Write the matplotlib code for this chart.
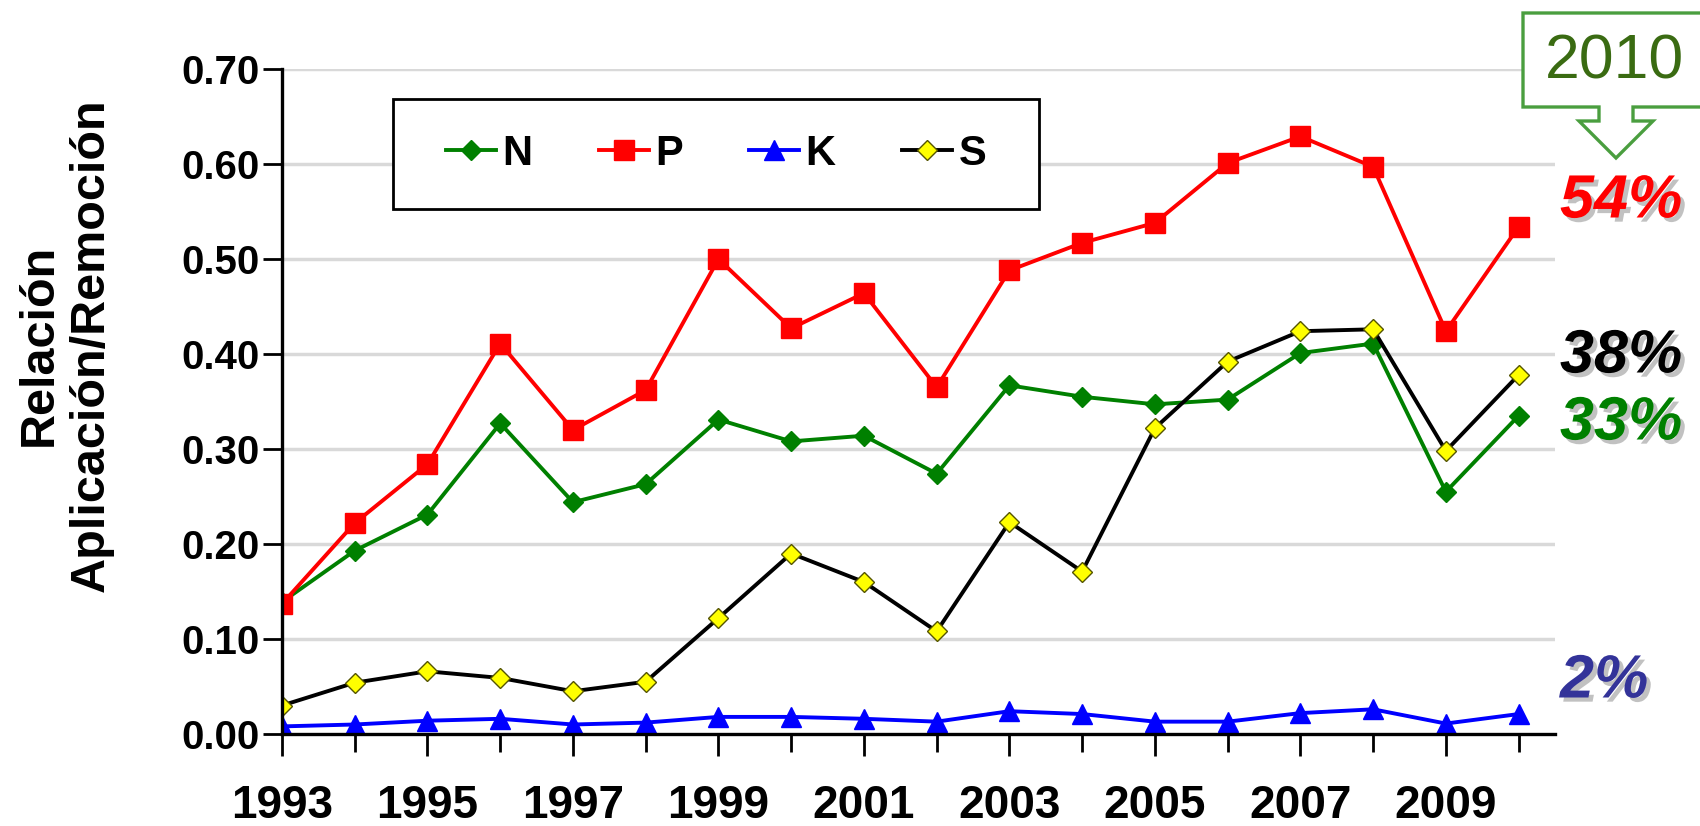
import matplotlib.pyplot as plt
import matplotlib.patheffects as pe
from matplotlib.patches import Polygon, Rectangle
import numpy as np

years = list(range(1993, 2011))

n_vals = [0.139, 0.193, 0.231, 0.327, 0.244, 0.263, 0.331, 0.308, 0.314,
          0.274, 0.367, 0.355, 0.347, 0.352, 0.401, 0.411, 0.255, 0.335]
p_vals = [0.137, 0.222, 0.284, 0.411, 0.320, 0.362, 0.500, 0.427, 0.464,
          0.365, 0.488, 0.517, 0.538, 0.601, 0.629, 0.597, 0.424, 0.534]
k_vals = [0.008, 0.010, 0.014, 0.016, 0.010, 0.012, 0.018, 0.018, 0.016,
          0.013, 0.024, 0.021, 0.013, 0.013, 0.022, 0.026, 0.011, 0.021]
s_vals = [0.030, 0.054, 0.066, 0.059, 0.045, 0.055, 0.122, 0.190, 0.160,
          0.108, 0.223, 0.171, 0.322, 0.392, 0.424, 0.426, 0.298, 0.378]

pct_labels = ["54%", "38%", "33%", "2%"]
pct_colors = ["#ff0000", "#000000", "#008000", "#333399"]
pct_ypix = [202, 357, 424, 682]   # centre rows in figure pixels (from top)

W, H = 1700, 826
narrow = ["Liberation Sans Narrow", "Liberation Sans"]
plt.rcParams["font.family"] = ["Liberation Sans", "DejaVu Sans"]

fig = plt.figure(figsize=(W / 100, H / 100), dpi=100)
ax = fig.add_axes([282 / W, 1 - 734 / H, (1555 - 282) / W, (734 - 69) / H])

def fx(px):
    return px / W

def fy(py):
    return 1 - py / H

ax.plot(years, n_vals, color="#008000", lw=2.8, marker="D", ms=10,
        mfc="#008000", mec="#008000", label="N", zorder=3)
ax.plot(years, p_vals, color="#ff0000", lw=2.8, marker="s", ms=15,
        mfc="#ff0000", mec="#ff0000", label="P", zorder=3)
ax.plot(years, k_vals, color="#0000ff", lw=2.8, marker="^", ms=15,
        mfc="#0000ff", mec="#0000ff", label="K", zorder=3)
ax.plot(years, s_vals, color="#000000", lw=2.8, marker="D", ms=10.5,
        mfc="#ffff00", mec="#555500", mew=1, label="S", zorder=3)

ax.set_xlim(1993, 2010.5)
ax.set_ylim(0, 0.70)
ax.set_yticks(np.arange(0, 0.71, 0.1))
ax.set_yticklabels([f"{v:.2f}" for v in np.arange(0, 0.71, 0.1)],
                   fontsize=29, fontweight="bold")
ax.set_xticks(range(1993, 2010, 2))
ax.set_xticklabels([str(y) for y in range(1993, 2010, 2)],
                   fontsize=33, fontweight="bold", family=narrow)
ax.set_xticks(range(1994, 2011, 2), minor=True)
ax.tick_params(axis="x", which="major", direction="out", length=16, width=2,
               pad=20)
ax.tick_params(axis="x", which="minor", direction="out", length=13, width=2)
ax.tick_params(axis="y", direction="out", length=14, width=2, pad=2)

for y in np.arange(0.1, 0.71, 0.1):
    ax.axhline(y, color="#d9d9d9", lw=2.5, zorder=1)

for side in ["top", "right"]:
    ax.spines[side].set_visible(False)
for side in ["left", "bottom"]:
    ax.spines[side].set_linewidth(2.4)
    ax.spines[side].set_zorder(4)

fig.text(fx(65), fy(345), "Relación\nAplicación/Remoción", rotation=90,
         ha="center", va="center", multialignment="center",
         fontsize=35, fontweight="bold", linespacing=1.2)

# legend box
ax.add_patch(Rectangle((fx(393), fy(209)), fx(1039) - fx(393),
                       fy(99) - fy(209), transform=fig.transFigure,
                       facecolor="white", edgecolor="black", lw=2,
                       zorder=5, clip_on=False))
leg = ax.legend(loc="center", bbox_to_anchor=(fx(716), fy(154)),
                bbox_transform=fig.transFigure, ncol=4, frameon=False,
                handlelength=1.2, handletextpad=0.15, columnspacing=1.6,
                prop=dict(family=narrow, weight="bold", size=30))
leg.set_zorder(6)

# 2010 callout
pts = [(1523, 13), (1710, 13), (1710, 107), (1633, 107), (1633, 121),
       (1653, 121), (1616, 158), (1579, 121), (1599, 121), (1599, 107),
       (1523, 107)]
fig.add_artist(Polygon([(fx(x), fy(y)) for x, y in pts], closed=True,
                       transform=fig.transFigure, facecolor="white",
                       edgecolor="#4a9e3f", lw=2.4))
fig.text(fx(1615), fy(62), "2010", ha="center", va="center", fontsize=45,
         color="#3a6b12")

shadow = [pe.SimplePatchShadow(offset=(3, -3), shadow_rgbFace="#999999",
                               alpha=0.6), pe.Normal()]
for lab, col, ypx in zip(pct_labels, pct_colors, pct_ypix):
    fig.text(fx(1560), fy(ypx), lab, ha="left", va="center", fontsize=44,
             fontweight="bold", fontstyle="italic", color=col,
             path_effects=shadow)

fig.savefig("out.png", dpi=100)
